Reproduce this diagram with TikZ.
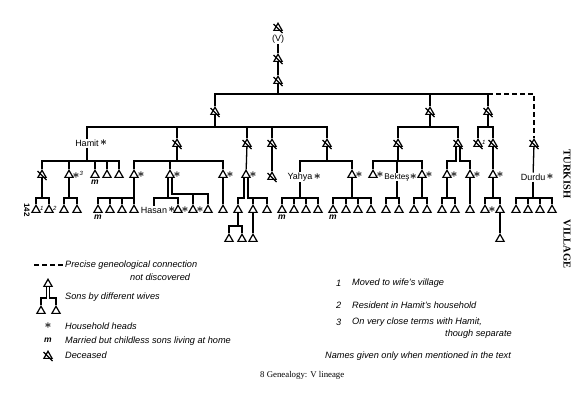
\documentclass[tikz,border=0pt]{standalone}
\usepackage{fontspec}
\setmainfont{Liberation Sans}
\newfontfamily\capfont{Liberation Serif}
\usetikzlibrary{shapes.geometric}

\newcommand{\hdstar}{{\large\boldmath$\ast$}}

\tikzset{
  son/.style={regular polygon, regular polygon sides=3, draw, line width=1.2pt,
    minimum size=9.5pt, inner sep=0pt},
  dead/.style={son, append after command={([shift={(-4.5pt,4pt)}]\tikzlastnode.center)
    edge[line width=1.2pt] ([shift={(4.5pt,-5pt)}]\tikzlastnode.center)}},
  lbl/.style={inner sep=0.5pt, font=\fontsize{9}{10}\selectfont},
  hd/.style={label={[lbl,inner sep=0pt]right:\hdstar}},
  sup/.style={label={[lbl,font=\fontsize{6}{6}\selectfont\itshape]right:\raisebox{2.5pt}{#1}}},
  marr/.style={label={[lbl,font=\fontsize{8.5}{9}\selectfont\itshape\bfseries,label distance=1.5pt]below:m}},
  nm/.style={inner sep=1pt, font=\fontsize{9}{10}\selectfont},
  kin/.style={line width=1.3pt},
  kinq/.style={kin, dash pattern=on 5pt off 3pt},
  legend/.style={anchor=west, inner sep=0pt, font=\fontsize{9.2}{10}\selectfont\itshape},
}

\begin{document}
\begin{tikzpicture}[x=1pt,y=-1pt]
    \useasboundingbox (0,0) rectangle (585,405);

    % head of the lineage
    \node[dead] (v0) at (278,28) {};
    \node[nm] (vv) at (278,39) {(V)};
    \node[dead] (v1) at (278,59) {};
    \node[dead] (v2) at (278,81) {};
    \draw[kin] (vv) -- (v1);
    \draw[kin] (v1) -- (v2);

    % first generation
    \node[dead] (ga) at (215,112) {};
    \node[dead] (gb) at (430,112) {};
    \node[dead] (gc) at (488,112) {};
    \node[dead] (gd) at (534,144) {};
    \draw[kin] (ga.north) |- (gc.north |- 0,94) -- (gc.north)
        (gb.north) -- (gb.north |- 0,94) (v2.south) -- (v2.south |- 0,94);
    \draw[kinq] (gc.north |- 0,94) -| (gd.north);

    % second generation
    \node[nm,hd] (hamit) at (87,143) {Hamit};
    \node[dead] (ga1) at (177,144) {};
    \node[dead] (ga2) at (247,144) {};
    \node[dead] (ga3) at (272,144) {};
    \node[dead] (ga4) at (327,144) {};
    \draw[kin] (hamit.north) |- (ga4.north |- 0,127) -- (ga4.north)
        (ga1.north) -- (ga1.north |- 0,127) (ga2.north) -- (ga2.north |- 0,127)
        (ga3.north) -- (ga3.north |- 0,127) (ga.south) -- (ga.south |- 0,127);
    \node[dead] (gb1) at (398,144) {};
    \node[dead] (gb2) at (458,144) {};
    \draw[kin] (gb1.north) |- (gb2.north |- 0,127) -- (gb2.north)
        (gb.south) -- (gb.south |- 0,127);
    \node[dead,sup=1] (gc1) at (478,144) {};
    \node[dead] (gc2) at (493,144) {};
    \draw[kin] (gc1.north) |- (gc2.north |- 0,127) -- (gc2.north)
        (gc.south) -- (gc.south |- 0,127);

    % Hamit's sons
    \node[dead] (h1) at (42,175) {};
    \node[son,label={[lbl,inner sep=0pt]right:\hdstar\raisebox{2.5pt}{\fontsize{6}{6}\selectfont\itshape 3}}] (h2) at (69,175) {};
    \node[son,marr] (h3) at (95,175) {};
    \node[son] (h4) at (107,175) {};
    \node[son] (h5) at (119,175) {};
    \draw[kin] (h1.north) |- (h5.north |- 0,161) -- (h5.north)
        (h2.north) -- (h2.north |- 0,161) (h3.north) -- (h3.north |- 0,161)
        (h4.north) -- (h4.north |- 0,161) (hamit.south) -- (hamit.south |- 0,161);
    \node[son,sup=1] (h11) at (36,210) {};
    \node[son,sup=2] (h12) at (49,210) {};
    \draw[kin] (h11.north) |- (h12.north |- 0,198) -- (h12.north)
        (h1.south) -- (h1.south |- 0,198);
    \node[son] (h21) at (64,210) {};
    \node[son] (h22) at (77,210) {};
    \draw[kin] (h21.north) |- (h22.north |- 0,198) -- (h22.north)
        (h2.south) -- (h2.south |- 0,198);

    % sons of ga1
    \node[son,hd] (a1) at (134,175) {};
    \node[son,hd] (a2) at (170,175) {};
    \node[son,hd] (a3) at (223,175) {};
    \draw[kin] (a1.north) |- (a3.north |- 0,161) -- (a3.north)
        (a2.north) -- (a2.north |- 0,161) (ga1.south) -- (ga1.south |- 0,161);
    \node[son,marr] (a11) at (98,210) {};
    \node[son] (a12) at (110,210) {};
    \node[son] (a13) at (122,210) {};
    \node[son] (a14) at (134,210) {};
    \draw[kin] (a11.north) |- (a14.north |- 0,198) -- (a14.north)
        (a12.north) -- (a12.north |- 0,198) (a13.north) -- (a13.north |- 0,198)
        (a1.south) -- (a1.south |- 0,198);
    \node[nm,hd] (hasan) at (154,210) {Hasan};
    \node[son,hd] (a22) at (178,210) {};
    \node[son,hd] (a23) at (193,210) {};
    \node[son] (a24) at (208,210) {};
    \draw[kin] (hasan.north) |- (a22.north |- 0,198) -- (a22.north)
        ([xshift=-2pt]a2.south) -- ([xshift=-2pt]a2.south |- 0,198);
    \draw[kin] ([xshift=2pt]a2.south) |- (a24.north |- 0,194) -- (a24.north)
        (a23.north) -- (a23.north |- 0,194);
    \node[son] (a31) at (223,210) {};
    \draw[kin] (a3) -- (a31);

    % sons of ga2 and ga3
    \node[son,hd] (a4) at (246,175) {};
    \draw[kin] (ga2) -- (a4);
    \node[son] (a41) at (238,210) {};
    \node[son] (a42) at (253,210) {};
    \node[son] (a43) at (267,210) {};
    \draw[kin] ([xshift=-2pt]a4.south) |- (a41.north |- 0,198) -- (a41.north);
    \draw[kin] ([xshift=2pt]a4.south) |- (a43.north |- 0,198) -- (a43.north)
        (a42.north) -- (a42.north |- 0,198);
    \node[son] (a411) at (229,239) {};
    \node[son] (a412) at (242,239) {};
    \draw[kin] (a411.north) |- (a412.north |- 0,226) -- (a412.north)
        (a41.south) -- (a41.south |- 0,226);
    \node[son] (a421) at (253,239) {};
    \draw[kin] (a42) -- (a421);
    \node[dead] (a5) at (272,177) {};
    \draw[kin] (ga3) -- (a5);

    % sons of ga4
    \node[nm,hd] (yahya) at (300,177) {Yahya};
    \node[son,hd] (a6) at (352,175) {};
    \draw[kin] (yahya.north) |- (a6.north |- 0,161) -- (a6.north)
        (ga4.south) -- (ga4.south |- 0,161);
    \node[son,marr] (y1) at (282,210) {};
    \node[son] (y2) at (294,210) {};
    \node[son] (y3) at (306,210) {};
    \node[son] (y4) at (318,210) {};
    \draw[kin] (y1.north) |- (y4.north |- 0,198) -- (y4.north)
        (y2.north) -- (y2.north |- 0,198) (y3.north) -- (y3.north |- 0,198)
        (yahya.south) -- (yahya.south |- 0,198);
    \node[son,marr] (a61) at (333,210) {};
    \node[son] (a62) at (346,210) {};
    \node[son] (a63) at (358,210) {};
    \node[son] (a64) at (371,210) {};
    \draw[kin] (a61.north) |- (a64.north |- 0,198) -- (a64.north)
        (a62.north) -- (a62.north |- 0,198) (a63.north) -- (a63.north |- 0,198)
        (a6.south) -- (a6.south |- 0,198);

    % sons of gb1
    \node[son,hd] (b1) at (373,175) {};
    \node[nm,hd,inner sep=0pt,font=\fontsize{8.2}{9}\selectfont] (bektes) at (397,177) {Bekteş};
    \node[son,hd] (b3) at (422,175) {};
    \draw[kin] (b1.north) |- (b3.north |- 0,161) -- (b3.north)
        (bektes.north) -- (bektes.north |- 0,161) (gb1.south) -- (gb1.south |- 0,161);
    \node[son] (b21) at (386,210) {};
    \node[son] (b22) at (399,210) {};
    \draw[kin] (b21.north) |- (b22.north |- 0,198) -- (b22.north)
        (bektes.south) -- (bektes.south |- 0,198);
    \node[son] (b31) at (414,210) {};
    \node[son] (b32) at (427,210) {};
    \draw[kin] (b31.north) |- (b32.north |- 0,198) -- (b32.north)
        (b3.south) -- (b3.south |- 0,198);

    % sons of gb2
    \node[son,hd] (b4) at (447,175) {};
    \node[son,hd] (b5) at (470,175) {};
    \draw[kin] ([xshift=-2pt]gb2.south) |- (b4.north |- 0,161) -- (b4.north);
    \draw[kin] ([xshift=2pt]gb2.south) |- (b5.north |- 0,161) -- (b5.north);
    \node[son] (b41) at (442,210) {};
    \node[son] (b42) at (455,210) {};
    \draw[kin] (b41.north) |- (b42.north |- 0,198) -- (b42.north)
        (b4.south) -- (b4.south |- 0,198);
    \node[son] (b51) at (470,210) {};
    \draw[kin] (b5) -- (b51);

    % sons of gc2
    \node[son,hd] (c1) at (493,175) {};
    \draw[kin] (gc2) -- (c1);
    \node[son,hd] (c11) at (485,210) {};
    \node[son] (c12) at (500,210) {};
    \draw[kin] (c11.north) |- (c12.north |- 0,198) -- (c12.north)
        (c1.south) -- (c1.south |- 0,198);
    \node[son] (c121) at (500,239) {};
    \draw[kin] (c12) -- (c121);

    % Durdu
    \node[nm,hd] (durdu) at (533,177) {Durdu};
    \draw[kin] (gd) -- (durdu);
    \node[son] (d1) at (516,210) {};
    \node[son] (d2) at (528,210) {};
    \node[son] (d3) at (540,210) {};
    \node[son] (d4) at (552,210) {};
    \draw[kin] (d1.north) |- (d4.north |- 0,198) -- (d4.north)
        (d2.north) -- (d2.north |- 0,198) (d3.north) -- (d3.north |- 0,198)
        (durdu.south) -- (durdu.south |- 0,198);

    % margins
    \node[rotate=-90, font=\fontsize{8}{8}\selectfont\bfseries] (page) at (27,210) {142};
    \node[rotate=-90, font=\capfont\fontsize{10.5}{10}\selectfont\bfseries] (turk) at (567,174) {TURKISH};
    \node[rotate=-90, font=\capfont\fontsize{10.5}{10}\selectfont\bfseries] (vill) at (567,244) {VILLAGE};

    % key, left
    \node[legend] (k1) at (65,265) {Precise geneological connection};
    \node[legend] (k1b) at (130,277) {not discovered};
    \draw[kinq] ([xshift=-2pt]k1.west) -- ++(-30,0);
    \node[son] (kw0) at (48,284) {};
    \node[son] (kw1) at (41,311) {};
    \node[son] (kw2) at (56,311) {};
    \draw[kin] ([xshift=-1.5pt]kw0.south) |- (kw1.north |- 0,298) -- (kw1.north);
    \draw[kin] ([xshift=1.5pt]kw0.south) |- (kw2.north |- 0,298) -- (kw2.north);
    \node[legend] (k2) at (65,297) {Sons by different wives};
    \node[lbl] (ks) at (48,326) {\hdstar};
    \node[legend] (k3) at (65,326) {Household heads};
    \node[lbl,font=\fontsize{8.5}{9}\selectfont\itshape\bfseries] (km) at (48,340) {m};
    \node[legend] (k4) at (65,341) {Married but childless sons living at home};
    \node[dead] (kd) at (48,356) {};
    \node[legend] (k5) at (65,355) {Deceased};

    % key, right
    \node[legend] (n1) at (336,283) {1};
    \node[legend] (t1) at (352,283) {Moved to wife's village};
    \node[legend] (n2) at (336,305) {2};
    \node[legend] (t2) at (352,305) {Resident in Hamit's household};
    \node[legend] (n3) at (336,322) {3};
    \node[legend] (t3) at (352,322) {On very close terms with Hamit,};
    \node[legend] (t3b) at (445,334) {though separate};
    \node[legend] (t4) at (325,356) {Names given only when mentioned in the text};

    % caption
    \node[anchor=west, inner sep=0pt, font=\capfont\fontsize{8.8}{10}\selectfont] (cap) at (260,375) {8 Genealogy: V lineage};
\end{tikzpicture}
\end{document}
